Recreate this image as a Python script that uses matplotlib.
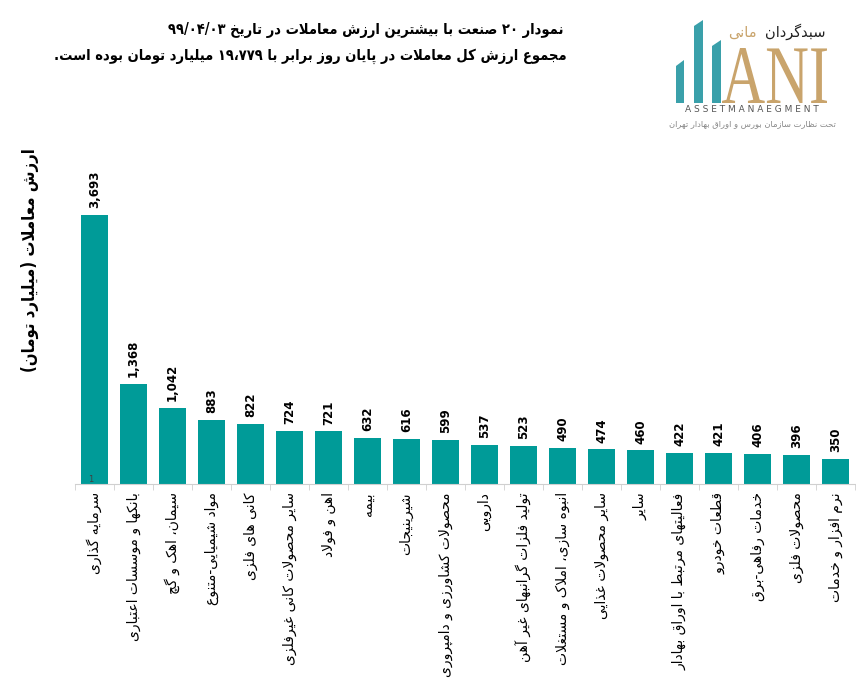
import re
import numpy as np
import matplotlib
matplotlib.use("Agg")
import matplotlib.pyplot as plt
from matplotlib.patches import Polygon, PathPatch
from matplotlib.textpath import TextPath
from matplotlib.font_manager import FontProperties
from matplotlib.transforms import Affine2D

# === Donnees ===
categories = [
    "سرمایه گذاری",
    "بانکها و موسسات اعتباری",
    "سیمان، اهک و گچ",
    "مواد شیمیایی-متنوع",
    "کانی های فلزی",
    "سایر محصولات کانی غیرفلزی",
    "اهن و فولاد",
    "بیمه",
    "شیرینیجات",
    "محصولات کشاورزی و دامپروری",
    "دارویی",
    "تولید فلزات گرانبهای غیر آهن",
    "انبوه سازی، املاک و مستغلات",
    "سایر محصولات غذایی",
    "سایر",
    "فعالیتهای مرتبط با اوراق بهادار",
    "قطعات خودرو",
    "خدمات رفاهی-برق",
    "محصولات فلزی",
    "نرم افزار و خدمات",
]
valeurs = [3693, 1368, 1042, 883, 822, 724, 721, 632, 616, 599,
           537, 523, 490, 474, 460, 422, 421, 406, 396, 350]

titre_1 = "نمودار ۲۰ صنعت با بیشترین ارزش معاملات در تاریخ ۹۹/۰۴/۰۳"
titre_2 = "مجموع ارزش کل معاملات در پایان روز برابر با ۱۹،۷۷۹ میلیارد تومان بوده است."
label_y = "ارزش معاملات (میلیارد تومان)"

# === Mise en forme du texte persan (matplotlib ne fait pas le shaping) ===
dual = {'ئ': 0xFE89, 'ب': 0xFE8F, 'ت': 0xFE95, 'ث': 0xFE99, 'ج': 0xFE9D, 'ح': 0xFEA1,
        'خ': 0xFEA5, 'س': 0xFEB1, 'ش': 0xFEB5, 'ص': 0xFEB9, 'ض': 0xFEBD, 'ط': 0xFEC1,
        'ظ': 0xFEC5, 'ع': 0xFEC9, 'غ': 0xFECD, 'ف': 0xFED1, 'ق': 0xFED5, 'ل': 0xFEDD,
        'م': 0xFEE1, 'ن': 0xFEE5, 'ه': 0xFEE9, 'ي': 0xFEF1, 'پ': 0xFB56, 'چ': 0xFB7A,
        'ک': 0xFB8E, 'گ': 0xFB92, 'ی': 0xFBFC}
right = {'آ': 0xFE81, 'أ': 0xFE83, 'ا': 0xFE8D, 'د': 0xFEA9, 'ذ': 0xFEAB, 'ر': 0xFEAD,
         'ز': 0xFEAF, 'و': 0xFEED, 'ژ': 0xFB8A, 'ة': 0xFE93}


def shape(text):
    out = []
    i = 0
    n = len(text)
    while i < n:
        c = text[i]
        prev = text[i - 1] if i > 0 else ''
        jp = prev in dual and (c in dual or c in right)
        if c == 'ل' and i + 1 < n and text[i + 1] in ('ا', 'آ'):
            lig = 0xFEFB if text[i + 1] == 'ا' else 0xFEF5
            out.append(chr(lig + (1 if jp else 0)))
            i += 2
            continue
        nxt = text[i + 1] if i + 1 < n else ''
        jn = c in dual and (nxt in dual or nxt in right)
        if c in dual:
            out.append(chr(dual[c] + [[0, 2], [1, 3]][jp][jn]))
        elif c in right:
            out.append(chr(right[c] + (1 if jp else 0)))
        else:
            out.append(c)
        i += 1
    return ''.join(out)


def fa(text):
    s = shape(text)
    parts = re.findall(r'[0-9۰-۹]+(?:[/،,.][0-9۰-۹]+)*|.', s)
    miroir = {'(': ')', ')': '('}
    return ''.join(miroir.get(p, p) for p in reversed(parts))


# === Figure ===
W, H = 856, 682
fig = plt.figure(figsize=(W / 100, H / 100), dpi=100)
ax = fig.add_axes([75 / W, 1 - 484 / H, 780 / W, 330 / H])

x = np.arange(len(valeurs))
couleur = '#009b98'
ax.bar(x, valeurs, width=0.67, color=couleur)

for xi, v in zip(x, valeurs):
    ax.annotate(f"{v:,}", (xi, v), xytext=(0, 5), textcoords='offset points',
                rotation=90, ha='center', va='bottom', fontsize=8.5, fontweight='bold')

ax.set_xlim(-0.5, len(valeurs) - 0.5)
ax.set_ylim(0, 3693 * 330 / 269)
ax.set_xticks(x)
ax.set_xticklabels([fa(c) for c in categories], rotation=90, fontsize=10)
ax.set_xticks(np.arange(-0.5, len(valeurs)), minor=True)
ax.tick_params(axis='x', which='major', length=0, pad=6)
ax.tick_params(axis='x', which='minor', length=4, color='#d0d0d0')
ax.set_yticks([])
for s in ['top', 'left', 'right']:
    ax.spines[s].set_visible(False)
ax.spines['bottom'].set_color('#d0d0d0')
ax.text(-0.1, 0, "1", fontsize=6, ha='center', va='bottom', color='#404040')

gras = dict(family='DejaVu Sans', stretch='condensed', fontweight='bold')
fig.text(30 / W, 1 - 260 / H, fa(label_y), rotation=90, ha='center', va='center',
         fontsize=12, **gras)

fig.text(563 / W, 1 - 30 / H, fa(titre_1), ha='right', va='center', fontsize=10.5, **gras)
fig.text(567 / W, 1 - 56 / H, fa(titre_2), ha='right', va='center', fontsize=10.5, **gras)

# === Logo ===
lg = fig.add_axes([0, 0, 1, 1], zorder=5)
lg.set_xlim(0, W)
lg.set_ylim(H, 0)
lg.axis('off')
teal = '#3aa0aa'
or_ = '#c9a46c'
for (x0, x1, top, bas) in [(676, 684, 60, 103), (694, 703, 20, 103), (712, 721, 40, 103)]:
    lg.add_patch(Polygon([(x0, bas), (x0, top + 6), (x1, top), (x1, bas)], closed=True, color=teal, lw=0))

tp = TextPath((0, 0), "ANI", size=1, prop=FontProperties(family='Liberation Serif'))
bb = tp.get_extents()
sx = (827 - 722) / bb.width
sy = (103 - 48) / bb.height
tr = Affine2D().translate(-bb.x0, -bb.y0).scale(sx, -sy).translate(722, 103)
lg.add_patch(PathPatch(tr.transform_path(tp), color=or_, lw=0))

lg.text(752, 110, "A S S E T M A N A E G M E N T", ha='center', va='center', fontsize=6.5, color='#555555')
lg.text(752, 124, fa("تحت نظارت سازمان بورس و اوراق بهادار تهران"), ha='center', va='center',
        fontsize=6, color='#888888')
lg.text(826, 32, fa("سبدگردان"), ha='right', va='center', fontsize=10.5, color='#222222')
lg.text(757, 32, fa("مانی"), ha='right', va='center', fontsize=10.5, color=or_)

fig.savefig("out.png", dpi=100)
